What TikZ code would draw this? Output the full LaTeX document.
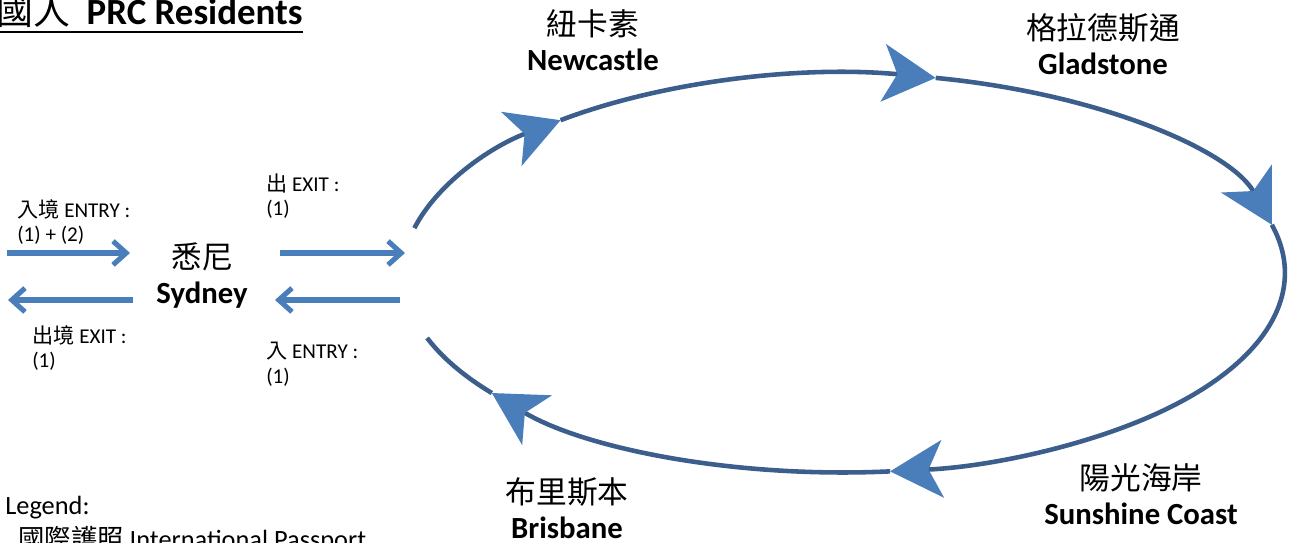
\documentclass[tikz,border=0pt]{standalone}
\usepackage{fontspec}
\setmainfont{Carlito}
\newfontfamily\cjk{Noto Sans CJK TC}
\usetikzlibrary{arrows.meta}
\usetikzlibrary{calc}
\usetikzlibrary{positioning}

\definecolor{loopblue}{HTML}{3B5E8C}
\definecolor{headblue}{HTML}{4A7EBB}

\begin{document}
\begin{tikzpicture}[
    x=0.02cm, y=-0.02cm,
    every node/.style={
      inner sep=0pt,
      align=center
    },
    zh/.style={font=\fontsize{17.5}{21}\selectfont\cjk},
    city/.style={font=\fontsize{17.5}{21}\selectfont\bfseries},
    tag/.style={font=\fontsize{12}{14}\selectfont, align=left, anchor=west},
    flow/.style={line width=2.9pt, headblue, -{Straight Barb[length=7.5pt,width=13.5pt]}},
    tour/.style={line width=2.6pt, loopblue, -{Stealth[length=1.05cm,width=1.15cm,inset=0.28cm,color=headblue]}}
    ]
    \useasboundingbox (0,0) rectangle (1292,543);

    \node[anchor=base east, font=\fontsize{21}{25}\selectfont\bfseries] (title) at (303,25)
      {{\cjk\mdseries 國人}\ \ PRC Residents};
    \draw[line width=1.1pt] ([yshift=-0.14cm]title.base west) -- ([yshift=-0.14cm]title.base east);

    \foreach \n/\zh/\en/\x/\y in {syd/悉尼/Sydney/202/257,new/紐卡素/Newcastle/593/24,
      gla/格拉德斯通/Gladstone/1103/28,sun/陽光海岸/Sunshine Coast/1141/478,bri/布里斯本/Brisbane/567/492}{
      \node[zh] (\n_zh) at (\x,\y) {\zh};
      \node[city] (\n) [below=0.2cm of \n_zh] {\en};
    }

    \node[tag] (in_l) at (17,222) {{\cjk 入境} ENTRY :\\(1) + (2)};
    \node[tag] (out_l) at (32,348) {{\cjk 出境} EXIT :\\(1)};
    \node[tag] (out_r) at (266,196) {{\cjk 出} EXIT :\\(1)};
    \node[tag] (in_r) at (266,364) {{\cjk 入} ENTRY :\\(1)};

    \coordinate (in_s) at (7,253);
    \coordinate (in_t) at (130,253);
    \coordinate (out_s) at (133,300);
    \coordinate (out_t) at (8,300);
    \coordinate (exit_s) at (280,253);
    \coordinate (exit_t) at (405,253);
    \coordinate (entry_s) at (400,300);
    \coordinate (entry_t) at (275,300);
    \foreach \s/\t in {in_s/in_t,out_s/out_t,exit_s/exit_t,entry_s/entry_t}{
      \draw[flow] (\s) -- (\t);
    }

    \coordinate (c) at (844,273);
    \foreach \a/\b in {167/130,130/78,78/14,14/-84,-84/-143}{
      \draw[tour] ($(c)+(\a:8.82cm and 3.99cm)$)
        arc[start angle=\a, end angle=\b, x radius=8.82cm, y radius=3.99cm];
    }
    \draw[tour, -] ($(c)+(-143:8.82cm and 3.99cm)$)
      arc[start angle=-143, end angle=-161, x radius=8.82cm, y radius=3.99cm];

    \node[anchor=base west, font=\fontsize{15}{18}\selectfont] (legend) at (5,515) {Legend:};
    \node[anchor=base west, font=\fontsize{15}{18}\selectfont] (passport) at (18,549)
      {{\cjk 國際護照} International Passport};
\end{tikzpicture}
\end{document}
